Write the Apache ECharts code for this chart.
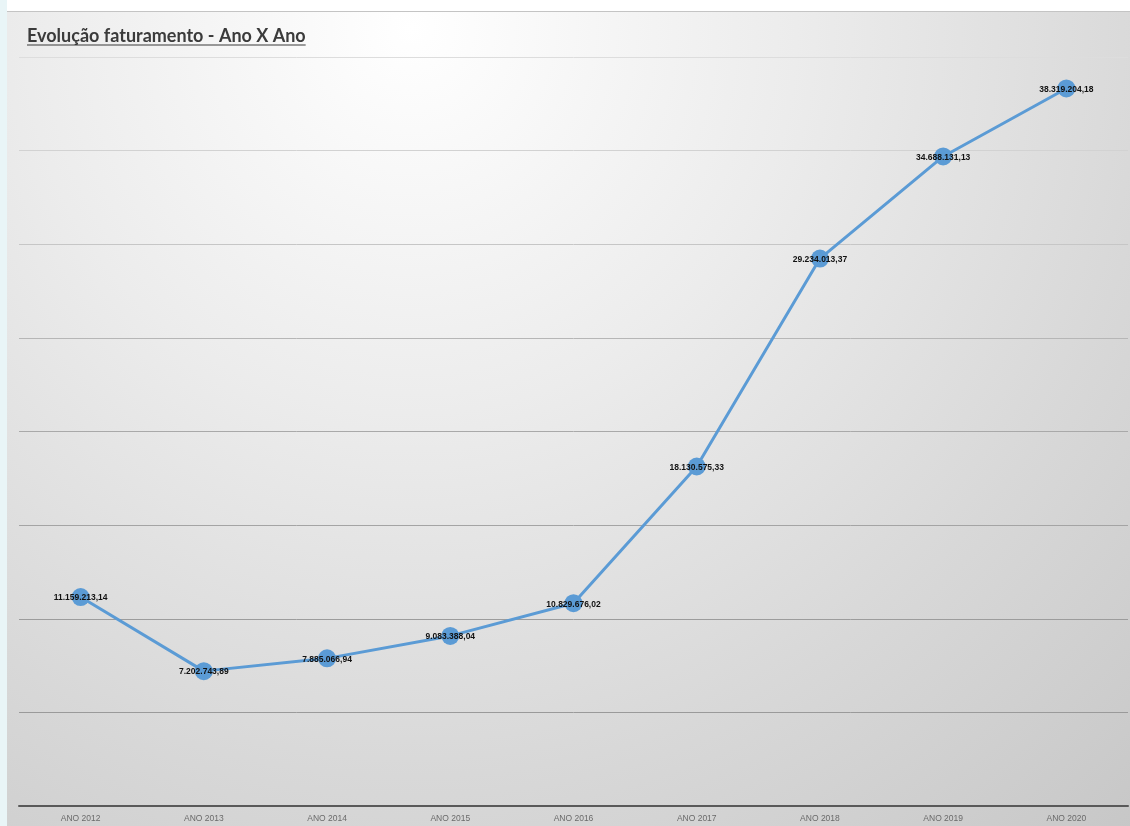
<!DOCTYPE html>
<html>
<head>
<meta charset="utf-8">
<script src="https://cdn.jsdelivr.net/npm/echarts@6/dist/echarts.min.js"></script>
<style>
  html, body { margin: 0; padding: 0; background: #ffffff; }
  #strip { position: absolute; left: 0; top: 0; width: 7px; height: 826px; background: #e9f5f7; }
  #bg { position: absolute; left: 7px; top: 11px; width: 1123px; height: 815px;
        border-top: 1px solid #c4c4c4; box-sizing: border-box;
        background: radial-gradient(circle 1100px at 36% 2%, #ffffff 0%, #ececec 35%, #d8d8d8 68%, #c6c6c6 100%); }
  #chart { position: absolute; left: 0; top: 0; width: 1130px; height: 826px; }
</style>
</head>
<body>
<div id="strip"></div>
<div id="bg"></div>
<div id="chart"></div>
<script>
const titleText = 'Evolução faturamento - Ano X Ano';
const categories = ['ANO 2012', 'ANO 2013', 'ANO 2014', 'ANO 2015', 'ANO 2016', 'ANO 2017', 'ANO 2018', 'ANO 2019', 'ANO 2020'];
const revenue = [11159213.14, 7202743.89, 7885066.94, 9083388.04, 10829676.02, 18130575.33, 29234013.37, 34688131.13, 38319204.18];
const gridColors = ['#595959', '#9a9a9a', '#9c9c9c', '#a4a4a4', '#a9a9a9', '#b6b6b6', '#c6c6c6', '#d2d2d2', '#dddddd'];

function fmtBR(v) {
  const parts = v.toFixed(2).split('.');
  return parts[0].replace(/\B(?=(\d{3})+(?!\d))/g, '.') + ',' + parts[1];
}

const titleFont = 'bold 18px Lato, "Open Sans", sans-serif';
const cv = document.createElement('canvas').getContext('2d');
cv.font = titleFont;
const titleW = cv.measureText(titleText).width;

const chart = echarts.init(document.getElementById('chart'), null, { renderer: 'canvas' });
chart.setOption({
  backgroundColor: 'transparent',
  animation: false,
  graphic: [
    { type: 'text', left: 27, top: 27, style: { text: titleText, font: titleFont, fill: '#3b3b3b' } },
    { type: 'line', shape: { x1: 27, y1: 45, x2: 27 + titleW, y2: 45 }, style: { stroke: '#3b3b3b', lineWidth: 1.2 } }
  ],
  grid: { left: 19, right: 2, top: 57, bottom: 20, containLabel: false },
  xAxis: {
    type: 'category',
    data: categories,
    boundaryGap: true,
    axisTick: { show: false },
    axisLine: { lineStyle: { color: '#595959', width: 2 } },
    axisLabel: { color: '#6a6a6a', fontSize: 8.5, fontFamily: 'Liberation Sans, Arial, sans-serif', margin: 8 }
  },
  yAxis: {
    type: 'value',
    min: 0, max: 40000000, interval: 5000000,
    axisLabel: { show: false },
    axisLine: { show: false },
    axisTick: { show: false },
    splitLine: { show: true, lineStyle: { color: gridColors, width: 1 } }
  },
  series: [{
    type: 'line',
    data: revenue,
    symbol: 'circle',
    symbolSize: 18,
    itemStyle: { color: '#5b9bd5' },
    lineStyle: { color: '#5b9bd5', width: 3 },
    label: {
      show: true,
      position: 'inside',
      formatter: p => fmtBR(p.value),
      color: '#111111',
      fontSize: 8.5,
      fontWeight: 'bold',
      fontFamily: 'Liberation Sans, Arial, sans-serif',
      offset: [0, 1]
    },
    emphasis: { disabled: true }
  }]
});
</script>
</body>
</html>
